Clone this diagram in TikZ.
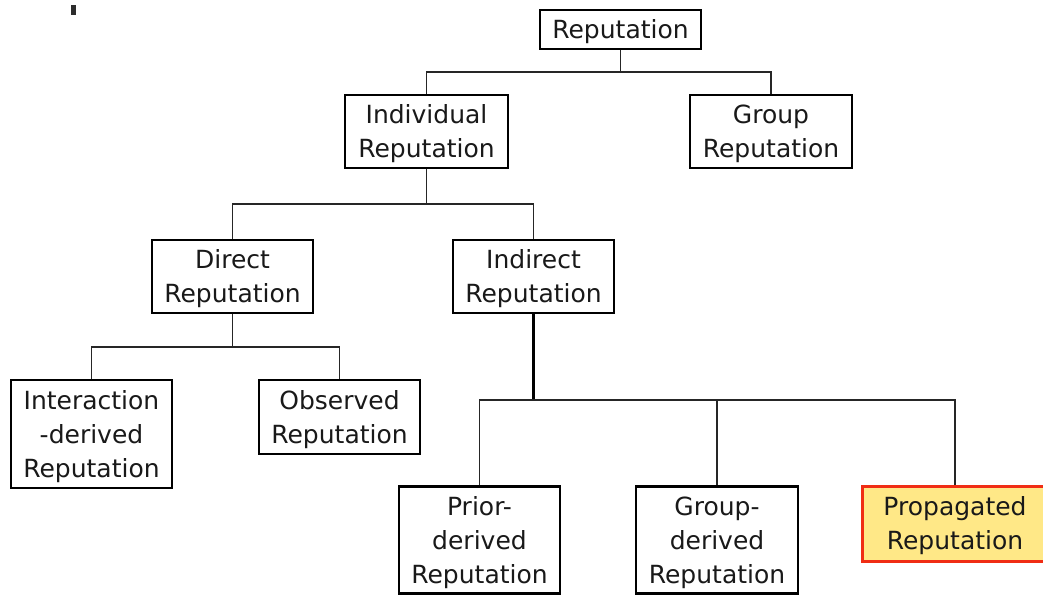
\documentclass[tikz,border=0pt]{standalone}
\usepackage{fontspec}
\setmainfont{DejaVu Sans}
\definecolor{boxyellow}{RGB}{255,232,135}
\definecolor{boxred}{RGB}{240,45,20}
\definecolor{markgrey}{RGB}{45,45,45}
% centred lines of a box label; the tall first strut sets the text a little low
\newcommand\boxlabel[1]{\begin{tabular}{@{}c@{}}\rule{0pt}{29pt}#1\end{tabular}}
\begin{document}
\begin{tikzpicture}[x=1pt,y=-1pt,
  nodebox/.style={draw=black, line width=2.6pt, fill=white, inner sep=0pt,
    font=\fontsize{25}{34}\selectfont, text=black!90},
  hot/.style={nodebox, draw=boxred, line width=3pt, fill=boxyellow},
  link/.style={line width=1.4pt, black!85},
  boldlink/.style={line width=2.1pt, black}]
\useasboundingbox (0,0) rectangle (1043,594);
\fill[white] (0,0) rectangle (1043,594);
\clip (0,0) rectangle (1043,594);

% small mark near the top-left corner
\fill[markgrey] (71,5) rectangle (75.5,15);

% tree levels
\node[nodebox, minimum width=161pt, minimum height=39pt] (rep) at (620.5,29.5) {\boxlabel{Reputation}};
\node[nodebox, minimum width=163pt, minimum height=73pt] (ind) at (426.5,131.5) {\boxlabel{Individual\\Reputation}};
\node[nodebox, minimum width=162pt, minimum height=73pt] (grp) at (771,131.5) {\boxlabel{Group\\Reputation}};
\node[nodebox, minimum width=161pt, minimum height=73pt] (dir) at (232.5,276.5) {\boxlabel{Direct\\Reputation}};
\node[nodebox, minimum width=161pt, minimum height=73pt] (indr) at (533.5,276.5) {\boxlabel{Indirect\\Reputation}};
\node[nodebox, minimum width=161pt, minimum height=108pt] (inter) at (91.5,434) {\boxlabel{Interaction\\-derived\\Reputation}};
\node[nodebox, minimum width=161pt, minimum height=74pt] (obs) at (339.5,417) {\boxlabel{Observed\\Reputation}};
\node[nodebox, minimum width=161pt, minimum height=107pt] (prior) at (479.5,540) {\boxlabel{Prior-\\derived\\Reputation}};
\node[nodebox, minimum width=162pt, minimum height=107pt] (gder) at (717,540) {\boxlabel{Group-\\derived\\Reputation}};
\node[hot, minimum width=186pt, minimum height=75pt] (prop) at (955,523.5) {\boxlabel{Propagated\\Reputation}};

% connectors
\coordinate (b1) at (0,72);
\coordinate (b2) at (0,204);
\coordinate (b3) at (0,347);
\coordinate (b4) at (0,400);

\draw[link] (rep.south) -- (rep.south |- b1);
\draw[link] (ind.north) -- (ind.north |- b1) -- (grp.north |- b1) -- (grp.north);

\draw[link] (ind.south) -- (ind.south |- b2);
\draw[link] (dir.north) -- (dir.north |- b2) -- (indr.north |- b2) -- (indr.north);

\draw[link] (dir.south) -- (dir.south |- b3);
\draw[link] (inter.north) -- (inter.north |- b3) -- (obs.north |- b3) -- (obs.north);

\draw[boldlink] (indr.south) -- (indr.south |- b4);
\draw[link] (prior.north) -- (prior.north |- b4) -- (prop.north |- b4) -- (prop.north);
\draw[link] (gder.north |- b4) -- (gder.north);
\end{tikzpicture}
\end{document}
